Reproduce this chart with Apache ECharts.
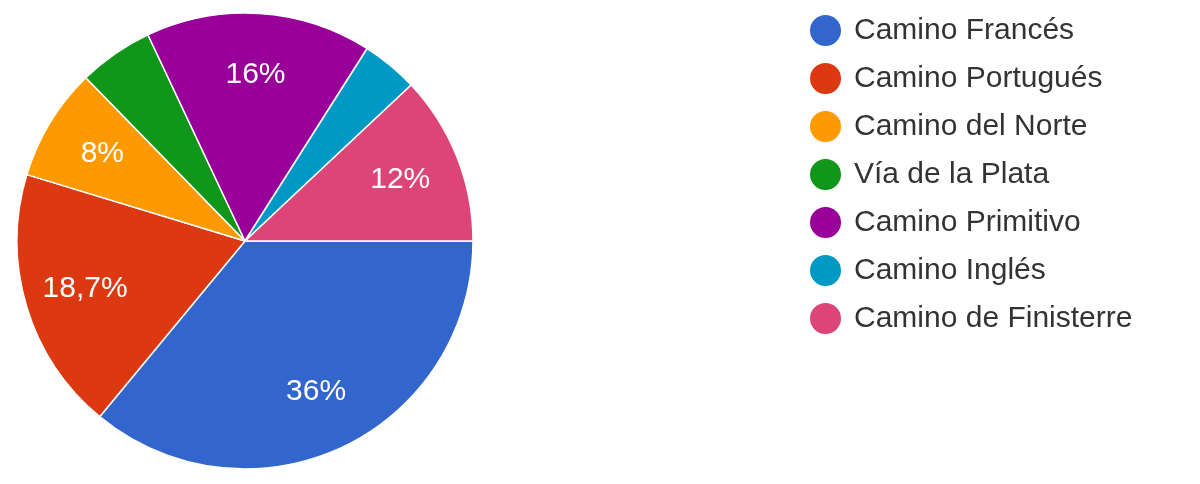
<!DOCTYPE html>
<html>
<head>
<meta charset="utf-8">
<script src="https://cdn.jsdelivr.net/npm/echarts@6/dist/echarts.min.js"></script>
<style>
  html, body { margin: 0; padding: 0; background: #fff; }
  #chart { width: 1200px; height: 484px; }
</style>
</head>
<body>
<div id="chart"></div>
<script>
const caminos = [
  'Camino Francés',
  'Camino Portugués',
  'Camino del Norte',
  'Vía de la Plata',
  'Camino Primitivo',
  'Camino Inglés',
  'Camino de Finisterre'
]
const percents = [36, 18.7, 8, 5.3, 16, 4, 12]
const colors = ['#3366cc', '#dc3912', '#ff9900', '#109618', '#990099', '#0099c6', '#dd4477']

// google hides labels of small slices
const labelMin = 7

const chart = echarts.init(document.getElementById('chart'))

const slices = caminos.map((name, i) => ({
  name: name,
  value: percents[i],
  itemStyle: { color: colors[i] }
}))

const option = {
  animation: false,
  legend: {
    orient: 'vertical',
    left: 803,
    top: 8,
    icon: 'circle',
    itemWidth: 33,
    itemHeight: 33,
    itemGap: 13,
    textStyle: {
      fontFamily: 'Liberation Sans',
      fontSize: 30,
      color: '#333',
      padding: [0, 0, 0, 7]
    },
    data: caminos
  },
  series: [
    {
      type: 'pie',
      center: [245, 241],
      radius: [0, 228],
      startAngle: 0,
      clockwise: true,
      silent: true,
      itemStyle: { borderColor: '#fff', borderWidth: 1.5 },
      label: { show: false },
      labelLine: { show: false },
      data: slices
    },
    {
      // transparent ring, only used to put labels at ~0.73 of radius
      type: 'pie',
      center: [245, 241],
      radius: [100, 228],
      startAngle: 0,
      clockwise: true,
      silent: true,
      legendHoverLink: false,
      itemStyle: { color: 'rgba(0,0,0,0)', borderWidth: 0 },
      label: {
        show: true,
        position: 'inside',
        color: '#fff',
        fontFamily: 'Liberation Sans',
        fontSize: 30,
        formatter: p => p.value < labelMin ? '' : String(p.value).replace('.', ',') + '%'
      },
      labelLine: { show: false },
      data: caminos.map((name, i) => ({ name: name, value: percents[i] }))
    }
  ]
}

chart.setOption(option)
</script>
</body>
</html>
